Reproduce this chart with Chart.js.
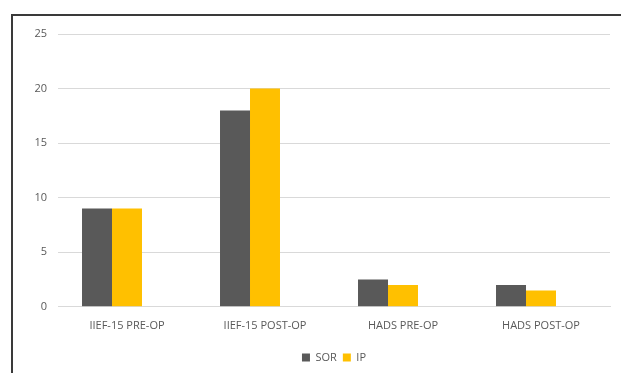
<!DOCTYPE html>
<html><head><meta charset="utf-8">
<script src="https://cdn.jsdelivr.net/npm/chart.js@4/dist/chart.umd.min.js"></script>
<style>
html,body{margin:0;padding:0;background:#fff;width:621px;height:373px;overflow:hidden;}
#frame{position:absolute;left:11px;top:14px;width:620px;height:370px;border-top:2px solid #3a3a3a;border-left:2px solid #3a3a3a;}
#wrap{position:absolute;left:0;top:0;width:621px;height:373px;}
</style></head>
<body>
<div id="frame"></div>
<div id="wrap"><canvas id="c" width="621" height="373"></canvas></div>
<script>
const categories = ["IIEF-15 PRE-OP", "IIEF-15 POST-OP", "HADS PRE-OP", "HADS POST-OP"];
const sorValues = [9, 18, 2.5, 2];
const ipValues = [9, 20, 2, 1.5];
const emptyValues = [null, null, null, null];
const yTicks = [0, 5, 10, 15, 20, 25];

const font = "'Open Sans',sans-serif";
const legendShift = {
  id: 'legendShift',
  afterLayout(chart) {
    const lg = chart.legend; const ca = chart.chartArea;
    const dx = (ca.left + ca.right) / 2 - (lg.left + lg.right) / 2;
    lg.left += dx; lg.right += dx;
  }
};
new Chart(document.getElementById('c'), {
  type: 'bar',
  data: {
    labels: categories,
    datasets: [
      {label: 'SOR', data: sorValues, backgroundColor: '#595959', barPercentage: 1, categoryPercentage: 0.652},
      {label: 'IP', data: ipValues, backgroundColor: '#FFC000', barPercentage: 1, categoryPercentage: 0.652},
      {label: '', data: emptyValues, backgroundColor: 'rgba(0,0,0,0)', barPercentage: 1, categoryPercentage: 0.652}
    ]
  },
  plugins: [legendShift],
  options: {
    responsive: false,
    animation: false,
    devicePixelRatio: 1,
    layout: {padding: {left: 0, right: 11, top: 34, bottom: 0}},
    plugins: {
      tooltip: {enabled: false},
      legend: {
        position: 'bottom',
        labels: {
          boxWidth: 8, boxHeight: 8, padding: 6,
          color: '#595959',
          font: {family: font, size: 11},
          filter: (item) => item.text !== ''
        }
      }
    },
    scales: {
      x: {
        afterFit: (s) => { s.height += 2; },
        grid: {display: false, drawTicks: false},
        border: {display: true, color: '#d9d9d9', width: 1},
        ticks: {color: '#595959', font: {family: font, size: 11}, padding: 12, maxRotation: 0}
      },
      y: {
        min: 0, max: 25,
        afterFit: (s) => { s.width = 58; },
        afterBuildTicks: (s) => { s.ticks = yTicks.map(v => ({value: v})); },
        grid: {color: '#d9d9d9', drawTicks: false},
        border: {display: false},
        ticks: {color: '#595959', font: {family: font, size: 11}, padding: 11}
      }
    }
  }
});
</script>
</body></html>
